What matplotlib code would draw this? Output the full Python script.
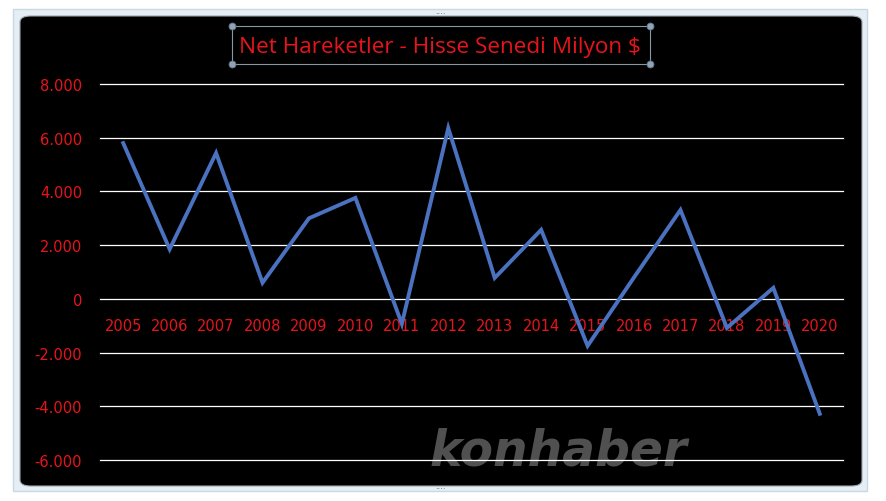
import numpy as np
from matplotlib import pyplot as plt
from matplotlib.patches import FancyBboxPatch, Rectangle
from matplotlib.lines import Line2D
from matplotlib.ticker import FuncFormatter

years = ["2005", "2006", "2007", "2008", "2009", "2010", "2011", "2012",
         "2013", "2014", "2015", "2016", "2017", "2018", "2019", "2020"]
values = [5800, 1850, 5430, 600, 3000, 3760, -930, 6360,
          780, 2570, -1750, 800, 3310, -1080, 410, -4280]
y_ticks = [-6000, -4000, -2000, 0, 2000, 4000, 6000, 8000]

W, H = 887, 502
fig = plt.figure(figsize=(W / 100, H / 100), dpi=100)
fig.patch.set_facecolor("white")

# excel chart frame
frame = Rectangle((13 / W, 1 - 492 / H), 854 / W, 482 / H, transform=fig.transFigure,
                  facecolor="#e4eef4", edgecolor="#c9d9e3", lw=1, zorder=0)
fig.patches.append(frame)
bg = FancyBboxPatch((20 / W, 1 - 487 / H), 842 / W, 470 / H, transform=fig.transFigure,
                    boxstyle="round,pad=0,rounding_size=0.012", facecolor="black",
                    edgecolor="#9aa6ad", lw=0.8, zorder=0.5)
fig.patches.append(bg)

ax = fig.add_axes([100 / W, 1 - 461 / H, 743 / W, 376 / H])
ax.set_facecolor("none")
x = np.arange(len(years))
ax.plot(x, values, color="#4a72c0", lw=2.8, solid_joinstyle="miter", zorder=3)
ax.set_xlim(-0.5, len(years) - 0.5)
ax.set_ylim(-6000, 8000)
ax.set_yticks(y_ticks)
ax.yaxis.set_major_formatter(FuncFormatter(lambda v, p: f"{int(v):,}".replace(",", ".")))
ax.set_xticks(x)
ax.set_xticklabels(years)
for yv in y_ticks:
    ax.axhline(yv, color="white", lw=0.9, zorder=1, clip_on=False)
for s in ["top", "right", "left", "bottom"]:
    ax.spines[s].set_visible(False)
ax.spines["bottom"].set_position(("data", 0))
ax.tick_params(axis="y", length=0, pad=13, labelcolor="#e8141c", labelsize=10.5)
ax.tick_params(axis="x", length=0, pad=14, labelcolor="#e8141c", labelsize=10.5)

# watermark
fig.text(430 / W, 1 - 466 / H, "konhaber", fontsize=35, fontweight="heavy", style="italic",
         color="#505050", ha="left", va="baseline", zorder=0.8)
ax.set_zorder(1)

# title with selection box
fig.text(440 / W, 1 - 47 / H, "Net Hareketler - Hisse Senedi Milyon $", fontsize=16.2,
         color="#e8141c", ha="center", va="center", family="Open Sans")
fig.patches.append(Rectangle((232 / W, 1 - 65 / H), 418 / W, 38 / H, transform=fig.transFigure,
                             facecolor="none", edgecolor="#8a96a0", lw=0.8, zorder=2))
hx = [232 / W, 650 / W, 232 / W, 650 / W]
hy = [1 - 27 / H, 1 - 27 / H, 1 - 65 / H, 1 - 65 / H]
fig.add_artist(Line2D(hx, hy, transform=fig.transFigure, ls="none", marker="o", ms=5,
                      mfc="#8fa4b8", mec="#5f7385", mew=0.6, zorder=3))
for cx, cy in [(440, 12), (440, 487)]:
    fig.text(cx / W, 1 - cy / H, "....", fontsize=6, color="#556", ha="center", va="center")

fig.savefig("out.png", dpi=100, facecolor=fig.get_facecolor())
